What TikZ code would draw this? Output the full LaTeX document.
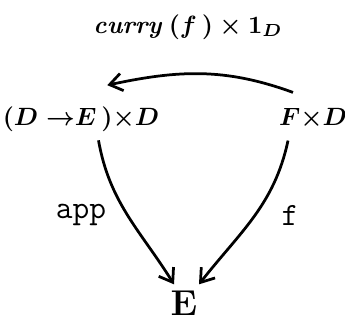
\documentclass[tikz,border=0pt]{standalone}
\usepackage{amsmath,amssymb}
\usetikzlibrary{arrows.meta,positioning}

\begin{document}
\begin{tikzpicture}[x=0.4pt, y=0.4pt,
  maparrow/.style={line width=1.1pt, -{Straight Barb[length=5pt,width=7pt,line width=1.1pt]}},
  objnode/.style={font=\boldmath},
  maplabel/.style={font=\fontsize{13}{15}\selectfont\ttfamily}]
\useasboundingbox (0,0) rectangle (345,320);
\node[objnode] (prod) at (81,201) {$(D\mskip5mu{\to}E\,){\times}D$};
\node[objnode] (fd) at (313,201) {$F{\times}D$};
\node[font=\fontsize{14}{16}\selectfont] (e) at (184,17) {$\mathbf{E}$};
\node[objnode] (curry) at (188,293) {$\boldsymbol{\mathit{curry}\,(f\,)\times 1_D}$};
\node[maplabel] (app) at (81,105) {app};
\node[maplabel] (f) at (290,105) {f};
\draw[maparrow] ([xshift=-8pt,yshift=3pt]fd.north) to[out=160,in=12] ([xshift=10.5pt,yshift=5pt]prod.north);
\draw[maparrow] ([xshift=7pt]prod.south) to[out=-80,in=122] ([xshift=-4pt,yshift=-1pt]e.north);
\draw[maparrow] ([xshift=-10pt,yshift=-1pt]fd.south) to[out=-102,in=52] ([xshift=6pt,yshift=-1pt]e.north);
\end{tikzpicture}
\end{document}
